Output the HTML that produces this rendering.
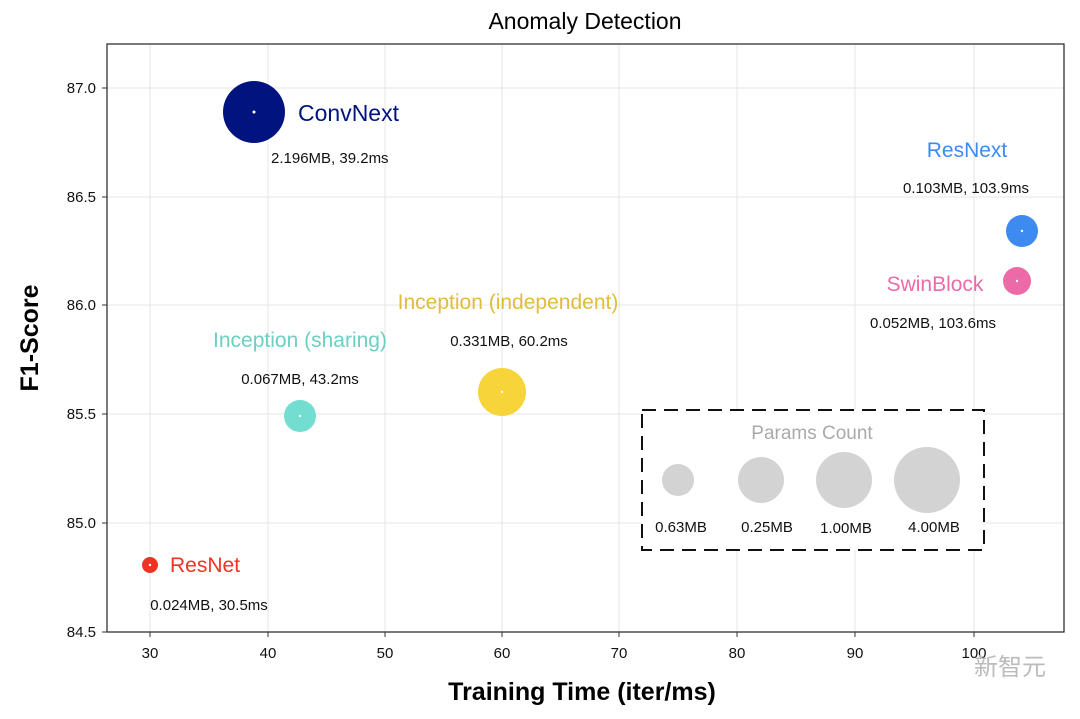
<!DOCTYPE html>
<html><head><meta charset="utf-8"><style>
body{margin:0;background:#fff;}
svg text{font-family:"Liberation Sans","Noto Sans CJK SC",sans-serif;}
</style></head><body>
<svg width="1080" height="714" viewBox="0 0 1080 714" xmlns="http://www.w3.org/2000/svg">
<rect width="1080" height="714" fill="#fff"/>
<g stroke="#e6e6e6" stroke-width="1">
<line x1="150" y1="44" x2="150" y2="632"/><line x1="268" y1="44" x2="268" y2="632"/><line x1="385" y1="44" x2="385" y2="632"/><line x1="502" y1="44" x2="502" y2="632"/><line x1="619" y1="44" x2="619" y2="632"/><line x1="737" y1="44" x2="737" y2="632"/><line x1="855" y1="44" x2="855" y2="632"/><line x1="974" y1="44" x2="974" y2="632"/>
<line x1="107" y1="88" x2="1064" y2="88"/><line x1="107" y1="197" x2="1064" y2="197"/><line x1="107" y1="305" x2="1064" y2="305"/><line x1="107" y1="414" x2="1064" y2="414"/><line x1="107" y1="523" x2="1064" y2="523"/>
</g>
<rect x="107" y="44" width="957" height="588" fill="none" stroke="#333" stroke-width="1.3"/>
<g stroke="#333" stroke-width="1">
<line x1="150" y1="632" x2="150" y2="637"/><line x1="268" y1="632" x2="268" y2="637"/><line x1="385" y1="632" x2="385" y2="637"/><line x1="502" y1="632" x2="502" y2="637"/><line x1="619" y1="632" x2="619" y2="637"/><line x1="737" y1="632" x2="737" y2="637"/><line x1="855" y1="632" x2="855" y2="637"/><line x1="974" y1="632" x2="974" y2="637"/>
<line x1="102" y1="88" x2="107" y2="88"/><line x1="102" y1="197" x2="107" y2="197"/><line x1="102" y1="305" x2="107" y2="305"/><line x1="102" y1="414" x2="107" y2="414"/><line x1="102" y1="523" x2="107" y2="523"/><line x1="102" y1="632" x2="107" y2="632"/>
</g>
<g font-size="15" fill="#111" text-anchor="middle">
<text x="150" y="658">30</text><text x="268" y="658">40</text><text x="385" y="658">50</text><text x="502" y="658">60</text><text x="619" y="658">70</text><text x="737" y="658">80</text><text x="855" y="658">90</text><text x="974" y="658">100</text>
</g>
<g font-size="15" fill="#111" text-anchor="end">
<text x="96" y="93">87.0</text><text x="96" y="202">86.5</text><text x="96" y="310">86.0</text><text x="96" y="419">85.5</text><text x="96" y="528">85.0</text><text x="96" y="637">84.5</text>
</g>
<text x="585" y="29" font-size="23" text-anchor="middle" fill="#000">Anomaly Detection</text>
<text x="582" y="700" font-size="25" font-weight="bold" text-anchor="middle" fill="#000">Training Time (iter/ms)</text>
<text transform="translate(38,338) rotate(-90)" font-size="25" font-weight="bold" text-anchor="middle" fill="#000">F1-Score</text>

<circle cx="254" cy="112" r="31" fill="#00137f"/><circle cx="254" cy="112" r="1.5" fill="#fff"/>
<text x="298" y="121" font-size="23" fill="#00137f">ConvNext</text>
<text x="271" y="163" font-size="15" fill="#111">2.196MB, 39.2ms</text>

<circle cx="1022" cy="231" r="16" fill="#3d8bf0"/><circle cx="1022" cy="231" r="1.2" fill="#fff"/>
<text x="967" y="157" font-size="21" fill="#3d8bf0" text-anchor="middle">ResNext</text>
<text x="966" y="193" font-size="15" fill="#111" text-anchor="middle">0.103MB, 103.9ms</text>

<circle cx="1017" cy="281" r="14" fill="#ec6aa8"/><circle cx="1017" cy="281" r="1.2" fill="#fff"/>
<text x="935" y="291" font-size="21" fill="#ec6aa8" text-anchor="middle">SwinBlock</text>
<text x="933" y="328" font-size="15" fill="#111" text-anchor="middle">0.052MB, 103.6ms</text>

<circle cx="502" cy="392" r="24" fill="#f7d43a"/><circle cx="502" cy="392" r="1.2" fill="#fff"/>
<text x="508" y="309" font-size="21" fill="#dfbd3a" text-anchor="middle">Inception (independent)</text>
<text x="509" y="346" font-size="15" fill="#111" text-anchor="middle">0.331MB, 60.2ms</text>

<circle cx="300" cy="416" r="16" fill="#72ddd0"/><circle cx="300" cy="416" r="1.2" fill="#fff"/>
<text x="300" y="347" font-size="21" fill="#6ccfc4" text-anchor="middle">Inception (sharing)</text>
<text x="300" y="384" font-size="15" fill="#111" text-anchor="middle">0.067MB, 43.2ms</text>

<circle cx="150" cy="565" r="8" fill="#ee3322"/><circle cx="150" cy="565" r="1.2" fill="#fff"/>
<text x="170" y="572" font-size="21" fill="#ee3322">ResNet</text>
<text x="209" y="610" font-size="15" fill="#111" text-anchor="middle">0.024MB, 30.5ms</text>

<rect x="642" y="410" width="342" height="140" fill="#fff" stroke="#111" stroke-width="2" stroke-dasharray="14,8"/>
<text x="812" y="439" font-size="19" fill="#aaa" text-anchor="middle">Params Count</text>
<circle cx="678" cy="480" r="16" fill="#d3d3d3"/>
<circle cx="761" cy="480" r="23" fill="#d3d3d3"/>
<circle cx="844" cy="480" r="28" fill="#d3d3d3"/>
<circle cx="927" cy="480" r="33" fill="#d3d3d3"/>
<g font-size="15" fill="#111" text-anchor="middle">
<text x="681" y="532">0.63MB</text><text x="767" y="532">0.25MB</text><text x="846" y="533">1.00MB</text><text x="934" y="532">4.00MB</text>
</g>
<text x="1010" y="675" font-size="24" fill="#bbb" text-anchor="middle">新智元</text>
</svg>
</body></html>
